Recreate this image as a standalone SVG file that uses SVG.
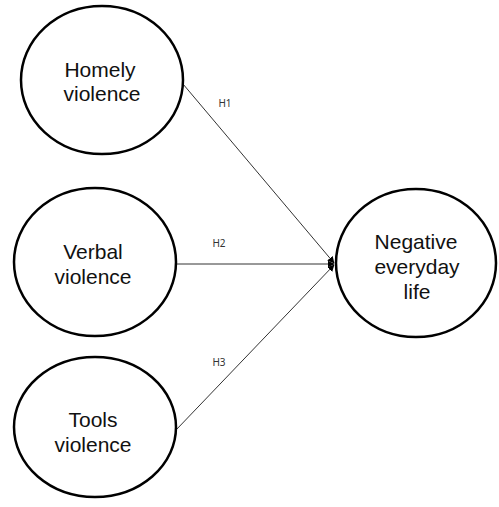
<svg xmlns="http://www.w3.org/2000/svg" width="499" height="507" viewBox="0 0 499 507">
<style>
.node ellipse{fill:#fff;stroke:#000;stroke-width:2.5}
.node text{font-family:"Liberation Sans",Arial,sans-serif;font-size:21px;fill:#111;text-anchor:middle}
.edge line{stroke:#333;stroke-width:1;marker-end:url(#arr)}
.lbl{font-family:"Noto Sans","Liberation Sans",sans-serif;font-size:10px;fill:#333;text-anchor:middle}
</style>
<defs>
<marker id="arr" viewBox="0 0 10 10" refX="9" refY="5" markerWidth="7" markerHeight="8" markerUnits="userSpaceOnUse" orient="auto">
<path d="M0,0 L10,5 L0,10 z" fill="#000"/>
</marker>
</defs>
<g id="connectors">
<g class="edge" id="e1"><line x1="183" y1="84" x2="334" y2="263"/><text class="lbl" x="225" y="107">H1</text></g>
<g class="edge" id="e2"><line x1="176" y1="264" x2="334" y2="264"/><text class="lbl" x="219" y="247">H2</text></g>
<g class="edge" id="e3"><line x1="176" y1="430" x2="334" y2="265"/><text class="lbl" x="219" y="366">H3</text></g>
</g>
<g class="node" id="homely"><ellipse cx="102" cy="80" rx="81" ry="74"/><text x="100" y="77">Homely</text><text x="102" y="101">violence</text></g>
<g class="node" id="verbal"><ellipse cx="95" cy="262" rx="81" ry="74"/><text x="93" y="259">Verbal</text><text x="93" y="284">violence</text></g>
<g class="node" id="tools"><ellipse cx="95" cy="427" rx="81" ry="70"/><text x="93" y="427">Tools</text><text x="93" y="452">violence</text></g>
<g class="node" id="negative"><ellipse cx="416" cy="263" rx="80" ry="74"/><text x="416" y="249">Negative</text><text x="417" y="274">everyday</text><text x="417" y="299">life</text></g>
</svg>
